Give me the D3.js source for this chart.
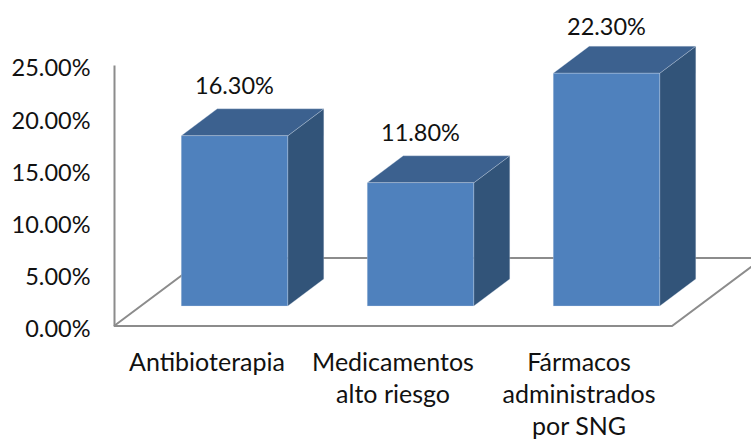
<!DOCTYPE html>
<html>
<head>
<meta charset="utf-8">
<script src="https://cdn.jsdelivr.net/npm/d3@7"></script>
<style>
  html, body { margin: 0; padding: 0; background: #fff; overflow: hidden; }
  text { font-family: Lato, "Open Sans", sans-serif; fill: #111; }
</style>
</head>
<body>
<div id="chart"></div>
<script>
// values
var categories = ["Antibioterapia", "Medicamentos alto riesgo", "Fármacos administrados por SNG"];
var categoryLines = [["Antibioterapia"], ["Medicamentos", "alto riesgo"], ["Fármacos", "administrados", "por SNG"]];
var values = [16.3, 11.8, 22.3];
var yTicks = [0, 5, 10, 15, 20, 25];

var width = 751, height = 439;

var svg = d3.select("#chart").append("svg")
    .attr("width", width)
    .attr("height", height)
    .style("display", "block");

var xScale = d3.scaleBand()
    .domain(categories)
    .range([114, 672])
    .paddingInner(0.427)
    .paddingOuter(0.2135);

var yScale = d3.scaleLinear()
    .domain([0, 25])
    .range([326, 65]);

// depth of the fake 3d
var floorDx = 91, floorDy = 68;   // floor, front edge to back edge
var barDx = 36, barDy = 27;       // bar box depth
var insetX = 27.5, insetY = 20;   // bars stand in from the front of the floor

var axisColor = "#8c8c8c";
var edgeColor = "rgba(220,228,240,0.55)";

// floor and back edge
svg.append("path")
    .attr("d", d3.line()([
      [114, yScale(0)],
      [672, yScale(0)],
      [672 + floorDx, yScale(0) - floorDy],
      [114 + floorDx, yScale(0) - floorDy],
      [114, yScale(0)]
    ]))
    .attr("fill", "none")
    .attr("stroke", axisColor)
    .attr("stroke-width", 2);

// y axis
var yAxis = d3.axisLeft(yScale)
    .tickValues(yTicks)
    .tickSize(0)
    .tickPadding(23.5)
    .tickFormat(function(d) { return d.toFixed(2) + "%"; });

var yG = svg.append("g")
    .attr("transform", "translate(114,0)")
    .call(yAxis);
yG.select(".domain").attr("stroke", axisColor).attr("stroke-width", 2);
yG.selectAll("text")
    .style("font-size", "23.5px")
    .attr("dy", "0.46em");

// bars
var bars = svg.selectAll(".bar")
    .data(values)
    .enter().append("g")
    .attr("class", "bar");

function box(d, i) {
  var x0 = xScale(categories[i]) + insetX,
      x1 = x0 + xScale.bandwidth(),
      y0 = yScale(d) - insetY,
      y1 = yScale(0) - insetY;
  return { x0: x0, x1: x1, y0: y0, y1: y1 };
}

bars.append("path")   // side
    .attr("d", function(d, i) {
      var b = box(d, i);
      return d3.line()([[b.x1, b.y0], [b.x1 + barDx, b.y0 - barDy], [b.x1 + barDx, b.y1 - barDy], [b.x1, b.y1]]) + "Z";
    })
    .attr("fill", "#325479")
    .attr("stroke", edgeColor)
    .attr("stroke-width", 0.5);

bars.append("path")   // top
    .attr("d", function(d, i) {
      var b = box(d, i);
      return d3.line()([[b.x0, b.y0], [b.x0 + barDx, b.y0 - barDy], [b.x1 + barDx, b.y0 - barDy], [b.x1, b.y0]]) + "Z";
    })
    .attr("fill", "#3c618f")
    .attr("stroke", edgeColor)
    .attr("stroke-width", 0.5);

bars.append("rect")   // front
    .attr("x", function(d, i) { return box(d, i).x0; })
    .attr("y", function(d, i) { return box(d, i).y0; })
    .attr("width", xScale.bandwidth())
    .attr("height", function(d, i) { var b = box(d, i); return b.y1 - b.y0; })
    .attr("fill", "#4f81bd")
    .attr("stroke", edgeColor)
    .attr("stroke-width", 0.5);

// value labels, kept inside the top of the picture
bars.append("text")
    .attr("x", function(d, i) { return box(d, i).x0 + xScale.bandwidth() / 2; })
    .attr("y", function(d, i) { return Math.max(box(d, i).y0 - 50, 27); })
    .attr("dy", "0.36em")
    .attr("text-anchor", "middle")
    .style("font-size", "23.5px")
    .text(function(d) { return d.toFixed(2) + "%"; });

// category labels
var xAxis = d3.axisBottom(xScale).tickSize(0).tickFormat("");
var xG = svg.append("g")
    .attr("transform", "translate(0,326)")
    .call(xAxis);
xG.select(".domain").remove();
xG.selectAll(".tick text").remove();
xG.selectAll(".tick").append("text")
    .attr("text-anchor", "middle")
    .style("font-size", "25px")
    .each(function(d, i) {
      d3.select(this).selectAll("tspan")
        .data(categoryLines[i])
        .enter().append("tspan")
        .attr("x", 0)
        .attr("y", function(l, j) { return 45 + j * 32; })
        .text(function(l) { return l; });
    });
</script>
</body>
</html>
